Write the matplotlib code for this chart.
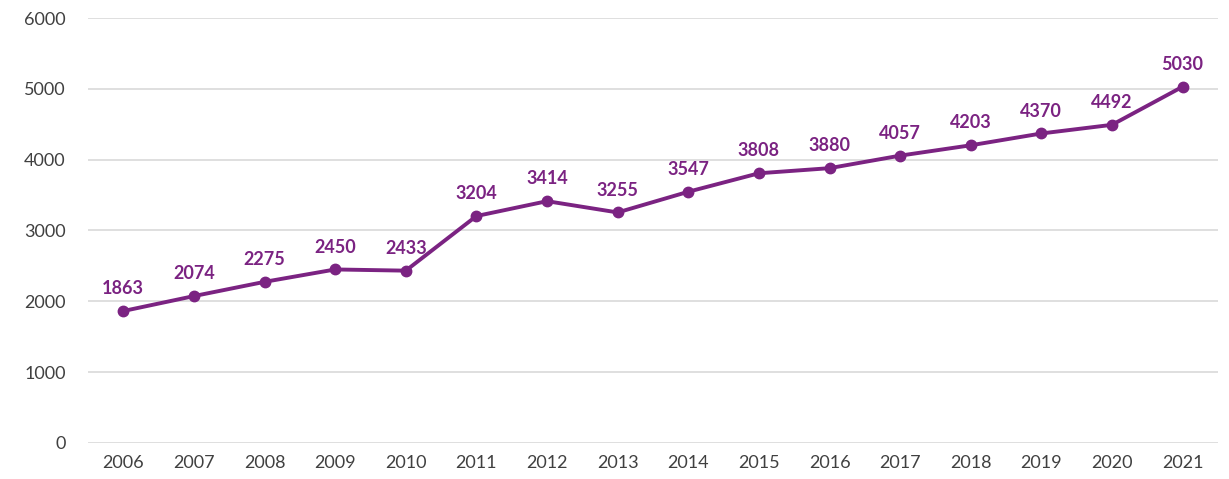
import matplotlib
matplotlib.use('Agg')
import matplotlib.pyplot as plt

years = ['2006', '2007', '2008', '2009', '2010', '2011', '2012', '2013',
         '2014', '2015', '2016', '2017', '2018', '2019', '2020', '2021']
values = [1863, 2074, 2275, 2450, 2433, 3204, 3414, 3255,
          3547, 3808, 3880, 4057, 4203, 4370, 4492, 5030]
yticks = [0, 1000, 2000, 3000, 4000, 5000, 6000]

purple = '#7b2382'
plt.rcParams['font.family'] = ['Lato', 'DejaVu Sans']

fig = plt.figure(figsize=(12.29, 4.79), dpi=100)
ax = fig.add_axes([0.0716, 0.0752, 0.9194, 0.8872])

x = list(range(len(years)))
ax.plot(x, values, color=purple, linewidth=2.8, marker='o', markersize=7.5,
        solid_capstyle='round', zorder=3)

for xi, v in zip(x, values):
    ax.annotate(str(v), (xi, v), xytext=(0, 10), textcoords='offset points',
                ha='center', va='bottom', color=purple, fontsize=13,
                fontweight='bold')

ax.set_xlim(-0.5, len(years) - 0.5)
ax.set_ylim(0, 6000)
ax.set_xticks(x)
ax.set_xticklabels(years)
ax.set_yticks(yticks)
ax.yaxis.grid(True, color='#d9d9d9', linewidth=1.2)
ax.set_axisbelow(True)
for s in ax.spines.values():
    s.set_visible(False)
ax.tick_params(length=0, labelsize=13, labelcolor='#404040')
ax.tick_params(axis='x', pad=9)
ax.tick_params(axis='y', pad=16)

fig.savefig('out.png', dpi=100)
